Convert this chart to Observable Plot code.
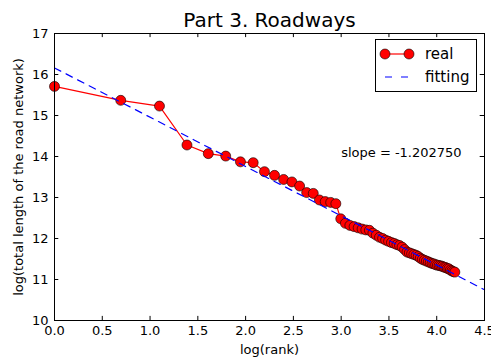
<!DOCTYPE html>
<html><head><meta charset="utf-8">
<script src="https://cdn.jsdelivr.net/npm/d3@7"></script>
<script src="https://cdn.jsdelivr.net/npm/@observablehq/plot@0.6"></script>
<style>
body{margin:0;background:#fff;}
#chart{position:relative;width:491px;height:357px;font-family:"DejaVu Sans",sans-serif;}
#legend{position:absolute;left:375px;top:39px;}
</style></head><body><div id="chart"></div>
<script>
const ranks = [1,2,3,4,5,6,7,8,9,10,11,12,13,14,15,16,17,18,19,20,21,22,23,24,25,26,27,28,29,30,31,32,33,34,35,36,37,38,39,40,41,42,43,44,45,46,47,48,49,50,51,52,53,54,55,56,57,58,59,60,61,62,63,64,65,66];
const logLength = [15.71,15.37,15.23,14.28,14.07,14.01,13.87,13.85,13.63,13.54,13.44,13.38,13.28,13.12,13.10,12.94,12.90,12.88,12.85,12.48,12.37,12.32,12.29,12.26,12.23,12.21,12.20,12.13,12.08,12.03,12.00,11.96,11.93,11.90,11.88,11.85,11.83,11.79,11.73,11.67,11.65,11.63,11.61,11.59,11.56,11.52,11.49,11.47,11.45,11.43,11.41,11.39,11.38,11.36,11.35,11.34,11.33,11.32,11.30,11.29,11.27,11.26,11.23,11.21,11.19,11.18];
const fitX = [0, 4.5];
const fitY = [16.16, 10.75];
const slopeLabel = "slope = -1.202750";
const slopeAt = [{x: 3.0, y: 14.1}];
const xTicks = [0,0.5,1,1.5,2,2.5,3,3.5,4,4.5];
const yTicks = [10,11,12,13,14,15,16,17];
const title = "Part 3. Roadways";
const xLabel = "log(rank)";
const yLabel = "log(total length of the road network)";
const seriesNames = ["real", "fitting"];

const real = ranks.map((r, i) => ({x: Math.log(r), y: logLength[i]}));
const fit = fitX.map((x, i) => ({x, y: fitY[i]}));

const plot = Plot.plot({
  width: 491, height: 357,
  marginLeft: 54, marginRight: 7, marginTop: 33, marginBottom: 37,
  style: {fontFamily: '"DejaVu Sans", sans-serif', fontSize: "13px", background: "#fff", color: "#000"},
  x: {domain: [0, 4.5], axis: null},
  y: {domain: [10, 17], axis: null},
  marks: [
    Plot.line(real, {x: "x", y: "y", stroke: "#ff0000", strokeWidth: 1.2}),
    Plot.dot(real, {x: "x", y: "y", r: 5, fill: "#ff0000", stroke: "#000", strokeWidth: 0.6}),
    Plot.line(fit, {x: "x", y: "y", stroke: "#0000ff", strokeDasharray: "7,6", strokeWidth: 1.2}),
    Plot.ruleX(xTicks, {x: d => d, y1: 10, y2: 10.1, stroke: "#000"}),
    Plot.ruleX(xTicks, {x: d => d, y1: 16.9, y2: 17, stroke: "#000"}),
    Plot.ruleY(yTicks, {y: d => d, x1: 0, x2: 0.045, stroke: "#000"}),
    Plot.ruleY(yTicks, {y: d => d, x1: 4.455, x2: 4.5, stroke: "#000"}),
    Plot.frame({stroke: "#000", strokeWidth: 1}),
    Plot.axisX({ticks: xTicks, tickSize: 0, tickPadding: 5, tickFormat: d => d.toFixed(1), label: null, fontSize: 13}),
    Plot.axisY({ticks: yTicks, tickSize: 0, tickPadding: 6, tickFormat: d => String(d), label: null, fontSize: 13}),
    Plot.text(slopeAt, {x: "x", y: "y", text: () => slopeLabel, textAnchor: "start", fontSize: 13}),
    Plot.text([xLabel], {frameAnchor: "bottom", dy: 29, lineAnchor: "middle", text: d => d, fontSize: 13}),
    Plot.text([yLabel], {frameAnchor: "left", dx: -36, rotate: -90, textAnchor: "middle", lineAnchor: "middle", text: d => d, fontSize: 13}),
    Plot.text([title], {frameAnchor: "top", dy: -13, lineAnchor: "middle", text: d => d, fontSize: 20})
  ]
});
const chart = document.getElementById("chart");
chart.appendChild(plot);

// legend
const ns = "http://www.w3.org/2000/svg";
const lg = document.createElementNS(ns, "svg");
lg.setAttribute("id", "legend");
lg.setAttribute("width", 103);
lg.setAttribute("height", 54);
lg.innerHTML = `
<rect x="0.5" y="0.5" width="101" height="52" fill="#fff" stroke="#000" stroke-width="1"/>
<line x1="10" y1="15" x2="34" y2="15" stroke="#ff0000" stroke-width="1.2"/>
<circle cx="10" cy="15" r="5" fill="#ff0000" stroke="#000" stroke-width="0.6"/>
<circle cx="34" cy="15" r="5" fill="#ff0000" stroke="#000" stroke-width="0.6"/>
<text x="50" y="15" dy="0.35em" font-family="DejaVu Sans, sans-serif" font-size="15">${seriesNames[0]}</text>
<line x1="10" y1="38" x2="34" y2="38" stroke="#0000ff" stroke-width="1.2" stroke-dasharray="7,9"/>
<text x="50" y="38" dy="0.35em" font-family="DejaVu Sans, sans-serif" font-size="15">${seriesNames[1]}</text>`;
chart.appendChild(lg);
</script></body></html>
